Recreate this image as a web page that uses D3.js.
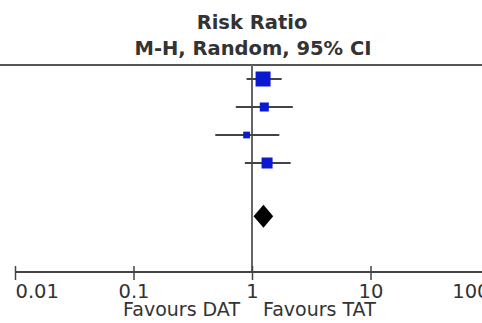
<!DOCTYPE html>
<html><head><meta charset="utf-8">
<script src="https://cdn.jsdelivr.net/npm/d3@7"></script>
<style>
html,body{margin:0;padding:0;background:#fff;}
svg{display:block;}
text{font-family:"DejaVu Sans",Verdana,sans-serif;fill:#333;}
</style></head>
<body>
<script>
// Data
const studies = ["Study 1", "Study 2", "Study 3", "Study 4"];
const riskRatio = [1.24, 1.27, 0.90, 1.34];
const ciLower = [0.90, 0.73, 0.49, 0.87];
const ciUpper = [1.78, 2.21, 1.70, 2.12];
const weights = [47.6, 17.2, 9.6, 25.6];
const pooled = {rr: 1.25, lo: 1.03, hi: 1.51};
const studyRows = [0, 1, 2, 3];
const pooledRow = 4.9;
const tickValues = [0.01, 0.1, 1, 10, 100];
const tickLabels = ["0.01", "0.1", "1", "10", "100"];
const titleLines = ["Risk Ratio", "M-H, Random, 95% CI"];
const favourLabels = ["Favours DAT", "Favours TAT"];

const W = 482, H = 323;
const svg = d3.select("body").append("svg").attr("width", W).attr("height", H);

const x = d3.scaleLog().domain([0.01, 100]).range([15, 489]);
const y = d3.scaleLinear().domain([0, 1]).range([79, 107]);
const size = d3.scaleSqrt().domain([0, d3.max(weights)]).range([0, 15]);

const axisY = 272, topY = 65;

// Titles
svg.append("text").attr("x", x(1)).attr("y", 29).attr("text-anchor", "middle")
  .attr("font-weight", "bold").attr("font-size", 19.5).text(titleLines[0]);
svg.append("text").attr("x", x(1) + 1).attr("y", 55).attr("text-anchor", "middle")
  .attr("font-weight", "bold").attr("font-size", 19.5).text(titleLines[1]);

// Top rule
svg.append("line").attr("x1", 0).attr("x2", W).attr("y1", topY).attr("y2", topY)
  .attr("stroke", "#555").attr("stroke-width", 2);

// Null line
svg.append("line").attr("x1", x(1)).attr("x2", x(1)).attr("y1", topY).attr("y2", axisY)
  .attr("stroke", "#666").attr("stroke-width", 2);

// CI lines
svg.selectAll("line.ci").data(studyRows).enter().append("line").attr("class", "ci")
  .attr("x1", i => x(ciLower[i])).attr("x2", i => x(ciUpper[i]))
  .attr("y1", i => y(i)).attr("y2", i => y(i))
  .attr("stroke", "#444").attr("stroke-width", 2);

// Squares
svg.selectAll("rect.pt").data(studyRows).enter().append("rect").attr("class", "pt")
  .attr("x", i => x(riskRatio[i]) - size(weights[i]) / 2)
  .attr("y", i => y(i) - size(weights[i]) / 2)
  .attr("width", i => size(weights[i])).attr("height", i => size(weights[i]))
  .attr("fill", "#0a1ad0");

// Diamond
const py = y(pooledRow), dh = 11.5;
svg.append("path")
  .attr("d", `M${x(pooled.lo)},${py} L${x(pooled.rr)},${py - dh} L${x(pooled.hi)},${py} L${x(pooled.rr)},${py + dh} Z`)
  .attr("fill", "#000");

// Axis
const axis = d3.axisBottom(x).tickValues(tickValues).tickFormat((d, i) => tickLabels[i])
  .tickSizeInner(8).tickSizeOuter(0);
const gAx = svg.append("g").attr("transform", `translate(0,${axisY})`).call(axis);
gAx.select(".domain").attr("stroke", "#444").attr("stroke-width", 2).attr("d", `M${x(0.01)},0H${x(100)}`);
gAx.selectAll(".tick line").attr("y1", -6).attr("y2", 8).attr("stroke", "#444").attr("stroke-width", 1.5);
gAx.selectAll(".tick text").attr("y", 26).attr("dy", 0).attr("font-size", 19.5)
  .attr("font-family", "DejaVu Sans, sans-serif").attr("fill", "#333")
  .attr("text-anchor", (d, i) => i === 0 ? "start" : (i === tickValues.length - 1 ? "end" : "middle"));

// Favours labels
svg.append("text").attr("x", x(1) - 12).attr("y", 316).attr("text-anchor", "end")
  .attr("font-size", 19).text(favourLabels[0]);
svg.append("text").attr("x", x(1) + 11).attr("y", 316).attr("text-anchor", "start")
  .attr("font-size", 19).text(favourLabels[1]);
</script>
</body></html>
